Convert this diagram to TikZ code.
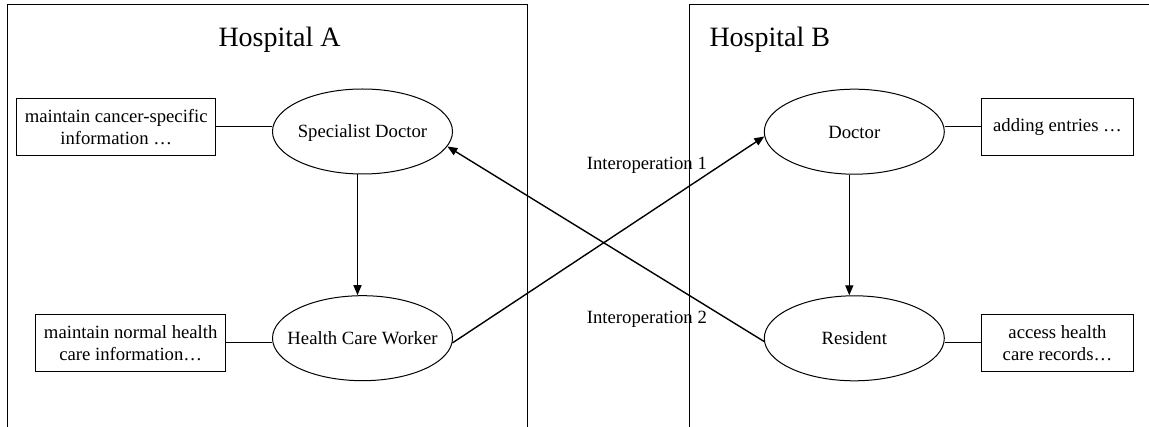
\documentclass[tikz,border=0pt]{standalone}
\usepackage{fontspec}
\setmainfont{Liberation Serif}
\usetikzlibrary{arrows.meta,shapes.geometric}
% role names are set in a zero-width box so the ellipse keeps its fixed size
\newcommand{\rolename}[1]{\makebox[0pt][c]{#1}}
\begin{document}
\begin{tikzpicture}[x=1pt,y=-1pt,
  frame/.style={line width=1pt},
  role/.style={draw, ellipse, line width=1pt, minimum width=180pt,
    minimum height=85pt, inner sep=0pt, text height=12.7pt, text depth=0pt,
    font=\fontsize{18.7}{22.5}\selectfont},
  task/.style={draw, rectangle, line width=1pt, minimum height=56.5pt,
    inner sep=0pt, align=center, font=\fontsize{18.7}{22.5}\selectfont},
  link/.style={line width=1pt},
  flow/.style={line width=1.4pt, -{Triangle[length=10pt,width=8pt]}},
  title/.style={font=\fontsize{28}{34}\selectfont, anchor=base west, inner sep=0pt},
  tag/.style={font=\fontsize{18.7}{22.5}\selectfont, anchor=base west, inner sep=0pt}]

\useasboundingbox (0,0) rectangle (1149,427);

% the two hospitals, open at the bottom (and at the right for B)
\draw[frame] (7.5,427) -- (7.5,4.5) -- (527.5,4.5) -- (527.5,427);
\draw[frame] (689,427) -- (689,4.5) -- (1149,4.5);

\node[title] (ha) at (218.3,46.7) {Hospital A};
\node[title] (hb) at (709.3,46.7) {Hospital B};

% Hospital A roles and their tasks
\node[role] (sd)  at (362.5,131.5) {\rolename{Specialist Doctor}};
\node[role] (hcw) at (362.5,338.2) {\rolename{Health Care Worker}};
\node[task, minimum width=199pt] (t1) at (116.2,127)
  {maintain cancer-specific\\information …};
\node[task, minimum width=190pt] (t2) at (130.7,343)
  {maintain normal health\\care information…};

% Hospital B roles and their tasks
\node[role] (doc) at (854.3,131.7) {\rolename{Doctor}};
\node[role] (res) at (854.3,338.3) {\rolename{Resident}};
\node[task, minimum width=151.6pt] (t3) at (1057.5,126.8) {adding entries …};
\node[task, minimum width=151.6pt] (t4) at (1057.5,343)
  {access health\\care records…};

% role-to-task links
\draw[link] (t1.east) -- (sd.west |- t1.east);
\draw[link] (t2.east) -- (hcw.west |- t2.east);
\draw[link] (doc.east |- t3.west) -- (t3.west);
\draw[link] (res.east |- t4.west) -- (t4.west);

% hierarchy inside each hospital
\draw[flow] ([xshift=-5pt]sd.south) -- ([xshift=-5pt]hcw.north);
\draw[flow] ([xshift=-5pt]doc.south) -- ([xshift=-5pt]res.north);

% interoperation between the hospitals
\draw[flow] (hcw.-3) -- (doc.183);
\draw[flow] (res.182) -- (sd.-10);

\node[tag] (i1) at (586.7,169.3) {Interoperation 1};
\node[tag] (i2) at (586.7,324) {Interoperation 2};

\end{tikzpicture}
\end{document}
